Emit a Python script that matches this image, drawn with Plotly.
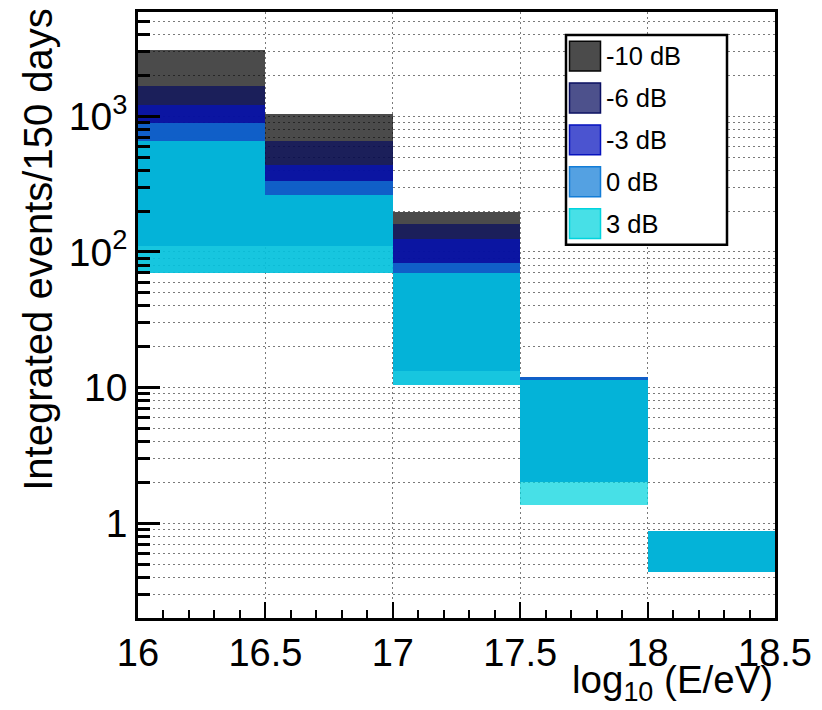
import plotly.graph_objects as go

# ---------------- data ----------------
bin_edges = [16.0, 16.5, 17.0, 17.5, 18.0, 18.5]
series_names = ["-10 dB", "-6 dB", "-3 dB", "0 dB", "3 dB"]

high_m10 = [3100, 1048, 197, 11.9, 0.869]
low_m10 = [110, 110, 13.2, 2.0, 0.437]
high_m6 = [1675, 661, 162, 11.9, 0.869]
low_m6 = [110, 110, 13.2, 2.0, 0.437]
high_m3 = [1206, 435, 125, 11.9, 0.869]
low_m3 = [110, 110, 13.2, 2.0, 0.437]
high_0 = [890, 332, 83.2, 11.9, 0.869]
low_0 = [69.4, 69.4, 10.5, 2.0, 0.437]
high_p3 = [657, 264, 70.2, 11.3, 0.869]
low_p3 = [69.4, 69.4, 10.5, 1.365, 0.437]

x_tick_vals = [16, 16.5, 17, 17.5, 18, 18.5]
x_tick_text = ["16", "16.5", "17", "17.5", "18", "18.5"]
y_tick_vals = [1, 10, 100, 1000]
y_tick_text = ["1", "10", "10<sup>2</sup>", "10<sup>3</sup>"]

# ---------------- styles ----------------
base_rgb = [(5, 5, 5), (9, 14, 96), (6, 18, 190), (18, 125, 215), (0, 212, 222)]
alpha = 0.72
fill_cols = [f"rgba({r},{g},{b},{alpha})" for r, g, b in base_rgb]
line_cols = [f"rgb({r},{g},{b})" for r, g, b in base_rgb]
FONT = "Liberation Sans, Arial, Helvetica, sans-serif"

highs = [high_m10, high_m6, high_m3, high_0, high_p3]
lows = [low_m10, low_m6, low_m3, low_0, low_p3]

centers = [(a + b) / 2 for a, b in zip(bin_edges[:-1], bin_edges[1:])]
widths = [b - a for a, b in zip(bin_edges[:-1], bin_edges[1:])]

fig = go.Figure()
for name, lo, hi, col in zip(series_names, lows, highs, fill_cols):
    fig.add_trace(go.Bar(
        x=centers, y=[h - l for h, l in zip(hi, lo)], base=lo, width=widths,
        name=name, marker=dict(color=col, line=dict(width=0)), showlegend=False,
    ))

# minor ticks
minor_y = [k * 10 ** e for e in range(-1, 4) for k in range(2, 10) if 0.2 <= k * 10 ** e <= 6000]
minor_x = [round(16 + 0.1 * i, 1) for i in range(26) if (i % 5) != 0]

# page has an 8px body margin; size the figure so it fits the window
OFF = 8
W, H = 814, 702
ml, mr, mt, mb = 130, 47, 1, 92
pw, ph = W - ml - mr, H - mt - mb


def px2x(sx):
    return (sx - OFF - ml) / pw


def px2y(sy):
    return (H - mb - (sy - OFF)) / ph


fig.update_layout(
    width=W, height=H, autosize=False,
    margin=dict(l=ml, r=mr, t=mt, b=mb, pad=0),
    paper_bgcolor="white", plot_bgcolor="white",
    barmode="overlay", bargap=0,
    font=dict(family=FONT, color="black"),
)

grid_dash = "2px,3px"
fig.update_xaxes(
    range=[16, 18.5], tickvals=x_tick_vals, ticktext=x_tick_text,
    tickfont=dict(size=38, family=FONT),
    ticks="inside", ticklen=16, tickwidth=2, tickcolor="black",
    showline=True, linecolor="black", linewidth=2.5, mirror=True,
    showgrid=True, gridcolor="#7a7a7a", gridwidth=1, griddash=grid_dash,
    zeroline=False,
    minor=dict(tickmode="array", tickvals=minor_x, ticks="inside", ticklen=8,
               tickwidth=2, tickcolor="black", showgrid=False),
)
fig.update_yaxes(
    type="log", range=[-0.699, 3.769],
    tickvals=y_tick_vals, ticktext=y_tick_text,
    tickfont=dict(size=39, family=FONT),
    ticks="inside", ticklen=22, tickwidth=2.5, tickcolor="black",
    showline=True, linecolor="black", linewidth=2.5, mirror=True,
    showgrid=True, gridcolor="#7a7a7a", gridwidth=1, griddash=grid_dash,
    zeroline=False,
    minor=dict(tickmode="array", tickvals=minor_y, ticks="inside", ticklen=12,
               tickwidth=2.5, tickcolor="black", showgrid=True,
               gridcolor="#7a7a7a", gridwidth=1, griddash=grid_dash),
)

# axis titles
fig.add_annotation(
    text="Integrated events/150 days", textangle=-90,
    xref="paper", yref="paper", x=px2x(38), y=px2y(248),
    xanchor="center", yanchor="middle", showarrow=False,
    font=dict(size=40, family=FONT, color="black"),
)
fig.add_annotation(
    text="log<sub>10</sub> (E/eV)",
    xref="paper", yref="paper", x=px2x(775), y=px2y(683),
    xanchor="right", yanchor="middle", showarrow=False,
    font=dict(size=38.5, family=FONT, color="black"),
)

# legend (drawn manually to match the large swatches)
fig.add_shape(type="rect", xref="paper", yref="paper",
              x0=px2x(566), x1=px2x(727), y0=px2y(243), y1=px2y(32),
              fillcolor="white", line=dict(color="black", width=2.5), layer="above")
for i, (name, fc, lc) in enumerate(zip(series_names, fill_cols, line_cols)):
    top = 38.3 + 42.1 * i
    fig.add_shape(type="rect", xref="paper", yref="paper",
                  x0=px2x(569.5), x1=px2x(600.5), y0=px2y(top + 30), y1=px2y(top),
                  fillcolor=fc, line=dict(color=lc, width=1.5), layer="above")
    fig.add_annotation(text=name, xref="paper", yref="paper",
                       x=px2x(604), y=px2y(top + 15), xanchor="left", yanchor="middle",
                       showarrow=False, font=dict(size=25.5, family=FONT, color="black"))

fig.write_html("out.html")
